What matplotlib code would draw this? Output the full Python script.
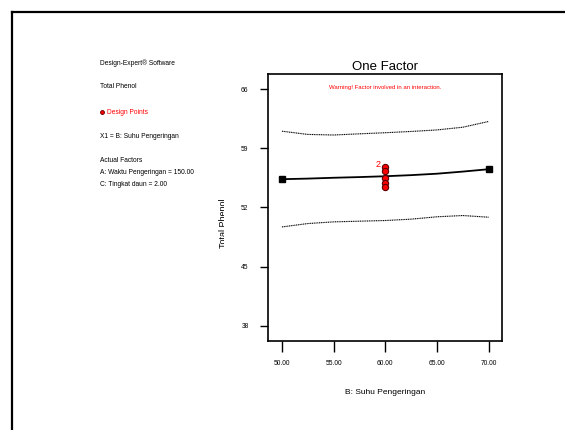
import matplotlib
matplotlib.use("Agg")
import matplotlib.pyplot as plt
from matplotlib.lines import Line2D
from matplotlib.transforms import Bbox, TransformedBbox

plt.rcParams['font.family'] = ['Liberation Sans Narrow', 'Liberation Sans', 'DejaVu Sans']

# values
x_grid = [50, 52.5, 55, 57.5, 60, 62.5, 65, 67.5, 70]
mean_line = [55.35, 55.42, 55.52, 55.6, 55.7, 55.83, 56.0, 56.25, 56.53]
upper_ci = [61.03, 60.65, 60.58, 60.72, 60.85, 61.0, 61.18, 61.5, 62.18]
lower_ci = [49.70, 50.1, 50.3, 50.38, 50.46, 50.62, 50.9, 51.05, 50.85]

end_x = [50, 70]
end_y = [55.35, 56.53]

pts_x = [60, 60, 60, 60, 60]
pts_y = [56.85, 56.35, 55.45, 54.95, 54.45]

xticks = [50, 55, 60, 65, 70]
xticklabels = ["50.00", "55.00", "60.00", "65.00", "70.00"]
yticks = [38, 45, 52, 59, 66]

info_lines = [
    ("Design-Expert\u00ae Software", 63),
    ("Total Phenol", 86),
    ("X1 = B: Suhu Pengeringan", 136),
    ("Actual Factors", 160),
    ("A: Waktu Pengeringan = 150.00", 172),
    ("C: Tingkat daun = 2.00", 184),
]

W, H = 565, 430
fig = plt.figure(figsize=(5.65, 4.3), dpi=100)
ax = fig.add_axes([268 / W, 1 - 341 / H, 234 / W, 267 / H])

ax.plot(x_grid, upper_ci, color='black', lw=0.8, ls=(0, (1, 0.6)))
ax.plot(x_grid, lower_ci, color='black', lw=0.8, ls=(0, (1, 0.6)))
ax.plot(x_grid, mean_line, color='black', lw=1.3)
ax.plot(end_x, end_y, 's', color='black', ms=5)
ax.plot(pts_x, pts_y, 'o', mfc='red', mec='#5a0000', mew=0.8, ms=4.5)
ax.text(59.55, pts_y[0] + 0.25, "2", color='red', fontsize=6.5, ha='right', va='center')

ax.set_xlim(48.65, 71.3)
ax.set_ylim(36.2, 67.8)
ax.set_xticks(xticks)
ax.set_xticklabels(xticklabels)
ax.set_yticks(yticks)
ax.tick_params(axis='both', labelsize=4.8, direction='out', width=1, color='black')
ax.tick_params(axis='x', length=8, pad=6)
ax.tick_params(axis='y', length=6, pad=8)
for s in ax.spines.values():
    s.set_linewidth(1.2)

ax.set_title("One Factor", fontsize=9.5, pad=3)
ax.text(0.5, 0.95, "Warning! Factor involved in an interaction.", transform=ax.transAxes,
        color='red', fontsize=4.3, ha='center', va='center')

fig.text(385 / W, 1 - 392 / H, "B: Suhu Pengeringan", fontsize=6, ha='center', va='center')

ylab = fig.text(223 / W, 1 - 223 / H, "Total Phenol", fontsize=6.5, rotation=90,
                ha='center', va='center')
ylab.set_clip_box(TransformedBbox(Bbox([[0, 0], [223.5 / W, 1]]), fig.transFigure))
ylab.set_clip_on(True)

tx = 100 / W
for txt, y in info_lines:
    fig.text(tx, 1 - y / H, txt, fontsize=4.8, va='center', ha='left')
fig.text(tx + 7 / W, 1 - 112 / H, "Design Points", fontsize=4.8, va='center', ha='left', color='red')
fig.add_artist(Line2D([tx + 2 / W], [1 - 112 / H], marker='o', ms=2.8, mfc='red', mec='#5a0000',
                      mew=0.6, transform=fig.transFigure))

# outer frame
fig.add_artist(Line2D([12 / W, 1], [1 - 12 / H, 1 - 12 / H], color='black', lw=1.6,
                      transform=fig.transFigure))
fig.add_artist(Line2D([12 / W, 12 / W], [0, 1 - 12 / H], color='black', lw=1.6,
                      transform=fig.transFigure))

fig.savefig("out.png", dpi=100)
